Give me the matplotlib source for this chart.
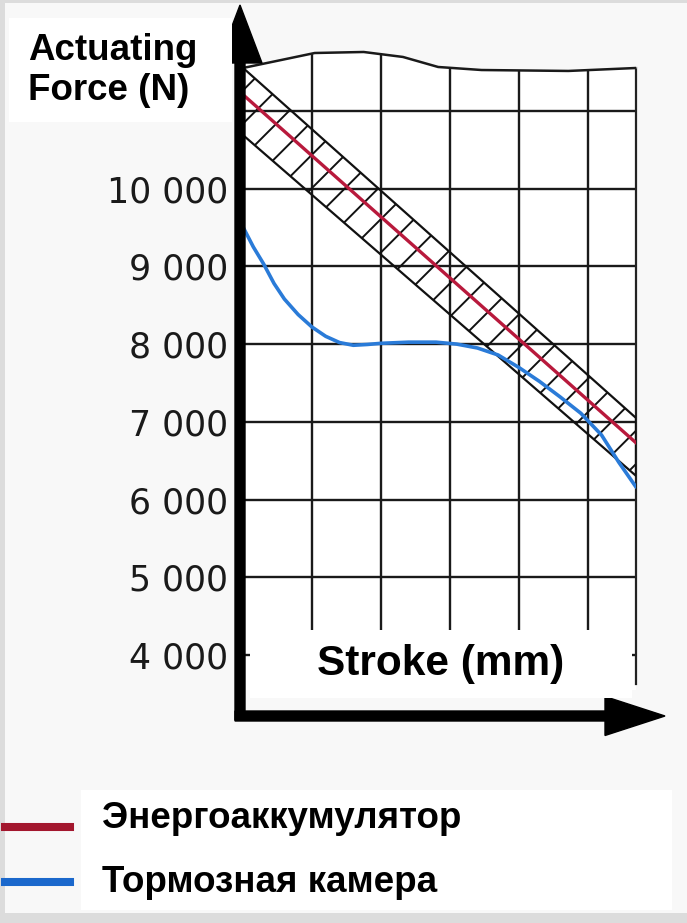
import matplotlib
matplotlib.use('Agg')
import matplotlib.pyplot as plt
from matplotlib.patches import Rectangle, FancyArrow
from matplotlib.lines import Line2D

# stroke measured in grid divisions, force in N
grid_x = [1, 2, 3, 4, 5]
force_ticks = [4000, 5000, 6000, 7000, 8000, 9000, 10000, 11000]
force_labels = ['4 000', '5 000', '6 000', '7 000', '8 000', '9 000', '10 000', '']

# spring brake (energy accumulator) - nominal line and tolerance band
spring_x = [0.0, 5.7]
spring_f = [11210, 6730]
band_x = [0.0, 5.7]
band_hi = [11555, 7050]
band_lo = [10690, 6305]

# service brake chamber
chamber_x = [0.0, 0.15, 0.3, 0.45, 0.6, 0.8, 1.0, 1.2, 1.4, 1.6, 1.8, 2.0,
             2.4, 2.8, 3.1, 3.4, 3.7, 4.0, 4.3, 4.6, 4.9, 5.2, 5.45, 5.7]
chamber_f = [9507, 9250, 9030, 8780, 8580, 8380, 8220, 8100, 8020, 7985, 7995, 8010,
             8025, 8025, 8000, 7950, 7860, 7700, 7520, 7320, 7110, 6830, 6480, 6161]

# torn top edge of the paper sheet
edge_x = [0.0, 1.04, 1.75, 2.32, 2.83, 3.46, 4.72, 5.7]
edge_f = [11553, 11746, 11759, 11695, 11566, 11527, 11515, 11553]

series_names = ['Энергоаккумулятор', 'Тормозная камера']
series_colors = ['#b8193c', '#2a7bd8']
legend_colors = ['#a3172e', '#1b68cc']

W, H = 6.87, 9.23
bg = '#f8f8f8'
plt.rcParams['hatch.linewidth'] = 1.4

fig = plt.figure(figsize=(W, H), dpi=100, facecolor=bg)
inch = fig.dpi_scale_trans

ax = fig.add_axes([2.43 / W, 1 - 6.90 / H, 3.93 / W, (6.90 - 0.488) / H])
ax.set_facecolor('white')
ax.set_xlim(0, 5.7)
ax.set_ylim(3549, 11800)

ax.set_xticks(grid_x)
ax.set_xticklabels([])
ax.set_yticks(force_ticks)
ax.set_yticklabels(force_labels, fontsize=25, family='DejaVu Sans', color='#1a1a1a')
ax.tick_params(length=0, pad=10.5)
ax.grid(True, color='#1a1a1a', lw=1.7)
ax.set_axisbelow(True)
for s in ax.spines.values():
    s.set_visible(False)
# right edge of the sheet
ax.plot([5.7, 5.7], [3620, edge_f[-1]], color='#222222', lw=1.6, zorder=1.5, clip_on=False)

ax.fill_between(band_x, band_lo, band_hi, facecolor='none', edgecolor='#111111',
                hatch='/', lw=1.6, zorder=2)
ax.plot(spring_x, spring_f, color=series_colors[0], lw=2.4, zorder=3)
ax.plot(chamber_x, chamber_f, color=series_colors[1], lw=2.6, zorder=3,
        solid_capstyle='round')

# mask grid above the torn paper edge
ax.fill_between(edge_x, edge_f, 12500, color=bg, lw=0, zorder=4, clip_on=False)
ax.plot(edge_x, edge_f, color='#1a1a1a', lw=1.8, zorder=5)

# thick axis arrows
fig.add_artist(FancyArrow(2.40, 2.03, 0, 7.15, width=0.10, head_width=0.44,
                          head_length=0.58, length_includes_head=True,
                          color='black', transform=inch))
fig.add_artist(FancyArrow(2.35, 2.07, 4.30, 0, width=0.10, head_width=0.39,
                          head_length=0.60, length_includes_head=True,
                          color='black', transform=inch))

# axis title boxes
fig.add_artist(Rectangle((0.09, 8.01), 2.23, 1.04, color='white', lw=0, transform=inch))
fig.text(0.28, 8.63, 'Actuating', transform=inch, fontsize=26.5, fontweight='bold',
         family='Liberation Sans', va='baseline')
fig.text(0.28, 8.23, 'Force (N)', transform=inch, fontsize=26.5, fontweight='bold',
         family='Liberation Sans', va='baseline')

fig.add_artist(Rectangle((2.50, 2.25), 3.82, 0.68, color='white', lw=0, transform=inch))
fig.text(4.41, 2.48, 'Stroke (mm)', transform=inch, fontsize=30.5, fontweight='bold',
         family='Liberation Sans', ha='center', va='baseline')

# legend
fig.add_artist(Rectangle((0.81, 0.13), 5.91, 1.20, color='white', lw=0, transform=inch))
for i, (name, c) in enumerate(zip(series_names, legend_colors)):
    yl = [0.96, 0.41][i]
    yt = [0.95, 0.31][i]
    fig.add_artist(Line2D([0.05, 0.70], [yl, yl], color=c, lw=5.8, transform=inch))
    fig.text(1.02, yt, name, transform=inch, fontsize=26.5, fontweight='bold',
             family='Liberation Sans', va='baseline')

# scan border
for r in [(0, 0, 0.05, H), (0, H - 0.03, W, 0.03), (0, 0, W, 0.10)]:
    fig.add_artist(Rectangle(r[:2], r[2], r[3], color='#dcdcdc', lw=0, transform=inch))

fig.savefig('out.png', dpi=100, facecolor=bg)
